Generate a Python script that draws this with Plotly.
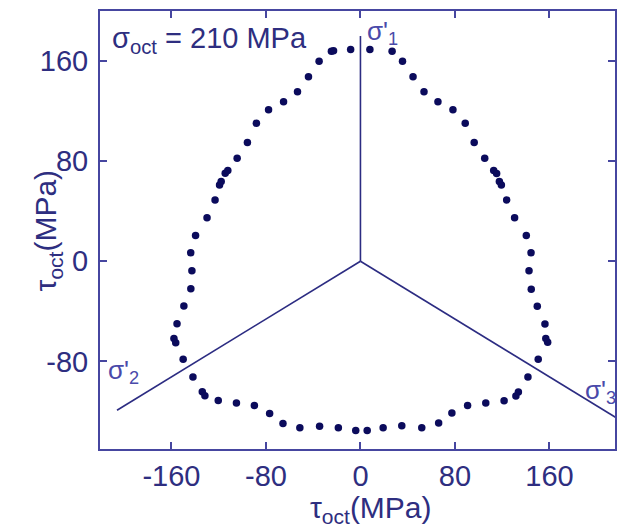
import plotly.graph_objects as go

# Measured octahedral shear stress locus in the deviatoric (pi) plane, MPa
tau_x = [8.0, 26.8, 35.6, 44.5, 53.8, 65.6, 78.3, 88.7, 96.3, 105.2,
         112.8, 115.3, 117.6, 119.3, 123.8, 130.5, 140.4, 144.4, 142.7, 144.6,
         149.7, 156.2, 156.9, 158.5, 150.5, 141.8, 133.7, 131.6, 121.6, 106.1,
         90.7, 77.4, 66.2, 51.9, 35.0, 19.2, 5.7, -4.0, -18.7, -34.6,
         -51.3, -65.6, -76.9, -89.8, -105.0, -120.4, -133.9, -131.7, -141.8, -150.1,
         -157.9, -156.4, -155.3, -149.5, -143.6, -142.7, -143.7, -139.6, -129.9, -123.1,
         -119.3, -117.9, -114.5, -112.3, -104.4, -95.7, -88.1, -77.8, -65.1, -53.3,
         -44.0, -35.0, -24.6, -22.8, -8.3]
tau_y = [169.2, 167.8, 159.8, 147.5, 135.5, 127.5, 121.1, 110.4, 94.9, 82.4,
         72.6, 70.2, 63.8, 61.0, 49.0, 34.8, 20.7, 6.8, -7.6, -22.3,
         -35.9, -50.1, -61.8, -64.7, -78.3, -92.5, -104.4, -107.6, -111.4, -113.3,
         -115.2, -121.3, -129.3, -133.0, -131.4, -133.0, -135.2, -135.2, -133.0, -131.8,
         -133.0, -129.6, -121.6, -115.2, -113.2, -111.3, -104.2, -107.4, -92.5, -78.3,
         -61.8, -65.0, -49.9, -35.7, -21.9, -7.6, 6.8, 20.6, 34.8, 49.0,
         61.0, 63.7, 70.4, 72.5, 82.4, 94.9, 110.4, 121.1, 127.5, 135.5,
         147.5, 159.8, 167.8, 168.3, 169.2]

# Projected principal stress axes: (x, y) end points of each ray from the origin
axis_names = ["σ'<sub>1</sub>", "σ'<sub>2</sub>", "σ'<sub>3</sub>"]
axis_end_x = [0.0, -206.1, 216.5]
axis_end_y = [180.0, -119.0, -125.0]
axis_label_x = [4.0, -215.5, 188.0]
axis_label_y = [183.0, -88.0, -104.0]

x_ticks = [-160, -80, 0, 80, 160]
x_tick_text = ["-160", "-80", "0", "80", "160"]
y_ticks = [-80, 0, 80, 160]
y_tick_text = ["-80", "0", "80", "160"]

FONT = "Liberation Sans, Arial, sans-serif"
TEXT = "#2e2e80"
FRAME = "#4646a0"
DOT = "#0b0b5c"
RAY = "#2c2c82"
RAYLABEL = "#4a4aaa"

fig = go.Figure()

for ex, ey in zip(axis_end_x, axis_end_y):
    fig.add_trace(go.Scatter(x=[0, ex], y=[0, ey], mode="lines",
                             line=dict(color=RAY, width=1.6),
                             hoverinfo="skip", showlegend=False))

fig.add_trace(go.Scatter(x=tau_x, y=tau_y, mode="markers",
                         marker=dict(color=DOT, size=7.5, line=dict(width=0)),
                         showlegend=False))

for name, lx, ly in zip(axis_names, axis_label_x, axis_label_y):
    fig.add_annotation(x=lx, y=ly, xref="x", yref="y", text=name,
                       showarrow=False, xanchor="left", yanchor="middle",
                       font=dict(family=FONT, size=26, color=RAYLABEL))

fig.add_annotation(x=-212, y=177, xref="x", yref="y",
                   text="σ<sub>oct</sub> = 210 MPa", showarrow=False,
                   xanchor="left", yanchor="middle",
                   font=dict(family=FONT, size=29, color=TEXT))

fig.add_annotation(x=0.527, y=-0.137, xref="paper", yref="paper",
                   text="τ<sub>oct</sub>(MPa)", showarrow=False,
                   xanchor="center", yanchor="middle",
                   font=dict(family=FONT, size=30, color=TEXT))
fig.add_annotation(x=-0.102, y=0.5, xref="paper", yref="paper",
                   text="τ<sub>oct</sub>(MPa)", showarrow=False, textangle=-90,
                   xanchor="center", yanchor="middle",
                   font=dict(family=FONT, size=30, color=TEXT))

axis_common = dict(showline=True, linecolor=FRAME, linewidth=2, mirror="ticks",
                   ticks="inside", ticklen=7, tickwidth=1.5, tickcolor=FRAME,
                   showgrid=False, zeroline=False,
                   tickfont=dict(family=FONT, size=29, color=TEXT))

fig.update_xaxes(range=[-220.5, 215.5], tickvals=x_ticks, ticktext=x_tick_text,
                 ticklabelstandoff=0, **axis_common)
fig.update_yaxes(range=[-150, 200], tickvals=y_ticks, ticktext=y_tick_text,
                 ticklabelstandoff=4, **axis_common)

fig.update_layout(width=618, height=530,
                  margin=dict(l=100, r=1, t=11, b=81),
                  paper_bgcolor="white", plot_bgcolor="white",
                  showlegend=False)

fig.write_html("out.html")
